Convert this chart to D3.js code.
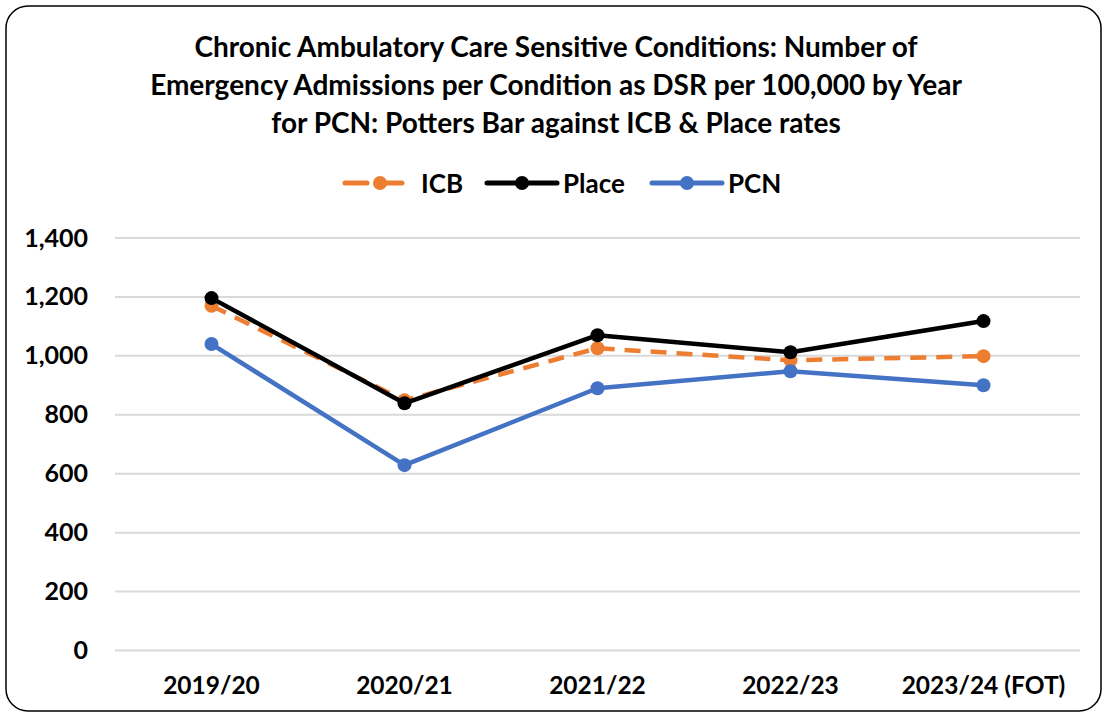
<!DOCTYPE html>
<html>
<head>
<meta charset="utf-8">
<script src="https://cdn.jsdelivr.net/npm/d3@7"></script>
<style>
  body { margin: 0; background: #fff; }
  text { font-family: Lato, "Open Sans", sans-serif; font-weight: bold; fill: #000; }
</style>
</head>
<body>
<div id="chart"></div>
<script>
var years = ["2019/20", "2020/21", "2021/22", "2022/23", "2023/24 (FOT)"];
var icb = [1170, 849, 1026, 985, 999];
var place = [1196, 839, 1070, 1012, 1118];
var pcn = [1040, 629, 890, 948, 900];
var yTicks = [0, 200, 400, 600, 800, 1000, 1200, 1400];
var titleLines = [
  "Chronic Ambulatory Care Sensitive Conditions: Number of",
  "Emergency Admissions per Condition as DSR per 100,000 by Year",
  "for PCN: Potters Bar against ICB & Place rates"
];

var series = [
  {name: "ICB", values: icb, color: "#ed7d31", dash: "16,10"},
  {name: "Place", values: place, color: "#000000", dash: null},
  {name: "PCN", values: pcn, color: "#4472c4", dash: null}
];

var W = 1107, H = 717;
var margin = {top: 238, right: 27, bottom: 67, left: 115};
var width = W - margin.left - margin.right,
    height = H - margin.top - margin.bottom;

var svg = d3.select("#chart").append("svg")
    .attr("width", W)
    .attr("height", H);

// rounded frame
svg.append("rect")
    .attr("x", 6).attr("y", 6)
    .attr("width", W - 12).attr("height", H - 12)
    .attr("rx", 22).attr("ry", 22)
    .attr("fill", "#fff")
    .attr("stroke", "#000")
    .attr("stroke-width", 1.5);

// title
svg.append("g").selectAll("text")
    .data(titleLines).enter().append("text")
    .attr("x", 556)
    .attr("y", function(d, i) { return 57 + i * 38; })
    .attr("text-anchor", "middle")
    .style("font-size", "28px")
    .text(function(d) { return d; });

var g = svg.append("g")
    .attr("transform", "translate(" + margin.left + "," + margin.top + ")");

var x = d3.scaleBand().domain(years).range([0, width]);
var y = d3.scaleLinear().domain([0, 1400]).range([height + 0.5, 0]);

// gridlines
g.append("g").selectAll("line")
    .data(yTicks).enter().append("line")
    .attr("x1", 0).attr("x2", width)
    .attr("y1", function(d) { return y(d); })
    .attr("y2", function(d) { return y(d); })
    .attr("stroke", "#d9d9d9")
    .attr("stroke-width", 2);

// y axis labels
var yAxis = g.append("g")
    .call(d3.axisLeft(y).tickValues(yTicks).tickSize(0).tickPadding(27).tickFormat(d3.format(",")));
yAxis.select(".domain").remove();
yAxis.selectAll("text").style("font-size", "25px").style("font-family", "Lato, sans-serif");

// x axis labels
var xAxis = g.append("g")
    .attr("transform", "translate(0," + height + ")")
    .call(d3.axisBottom(x).tickSize(0).tickPadding(27));
xAxis.select(".domain").remove();
xAxis.selectAll("text").style("font-size", "24.5px").style("font-family", "Lato, sans-serif");

var line = d3.line()
    .x(function(d, i) { return x(years[i]) + x.bandwidth() / 2; })
    .y(function(d) { return y(d); });

series.forEach(function(s) {
  var sg = g.append("g");
  sg.append("path")
      .datum(s.values)
      .attr("d", line)
      .attr("fill", "none")
      .attr("stroke", s.color)
      .attr("stroke-width", 4.5)
      .attr("stroke-linejoin", "round")
      .attr("stroke-dasharray", s.dash);
  sg.selectAll("circle")
      .data(s.values).enter().append("circle")
      .attr("cx", function(d, i) { return x(years[i]) + x.bandwidth() / 2; })
      .attr("cy", function(d) { return y(d); })
      .attr("r", 7)
      .attr("fill", s.color);
});

// legend
var legendX = [345, 487, 652];
var legend = svg.append("g").selectAll("g")
    .data(series).enter().append("g")
    .attr("transform", function(d, i) { return "translate(" + legendX[i] + ",183)"; });
legend.append("line")
    .attr("x1", 0).attr("x2", 70)
    .attr("stroke", function(d) { return d.color; })
    .attr("stroke-width", 5)
    .attr("stroke-linecap", "round")
    .attr("stroke-dasharray", function(d) { return d.dash ? "22,13" : null; });
legend.append("circle")
    .attr("cx", 35).attr("r", 7)
    .attr("fill", function(d) { return d.color; });
legend.append("text")
    .attr("x", 76).attr("y", 9.5)
    .style("font-size", "26px")
    .text(function(d) { return d.name; });
</script>
</body>
</html>
